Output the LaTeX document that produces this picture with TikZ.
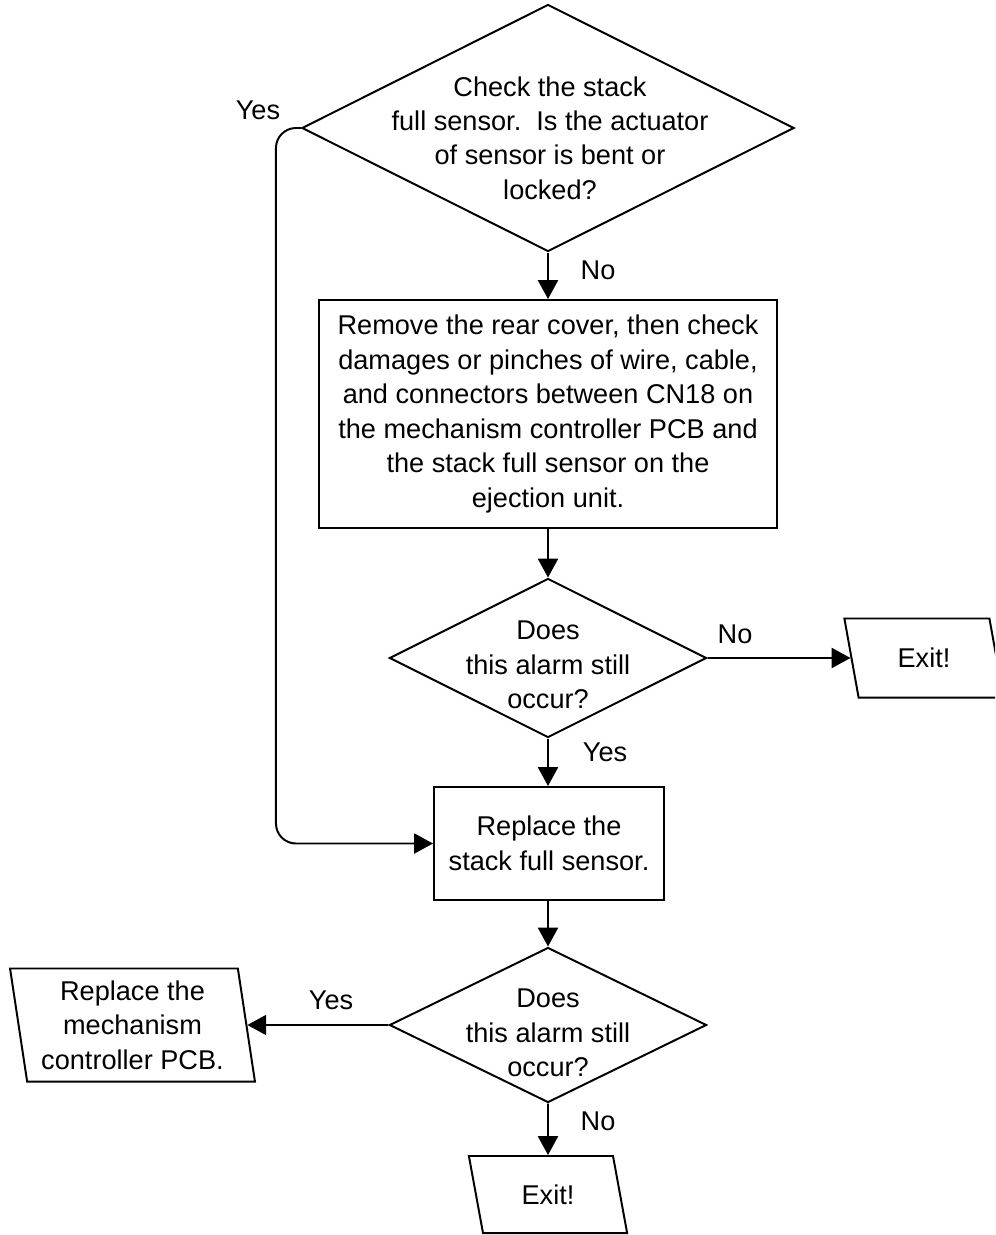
\documentclass[tikz,border=0pt]{standalone}
\usepackage{fontspec}
\setmainfont{Liberation Sans}
\usetikzlibrary{shapes.geometric,arrows.meta,positioning,calc}

\tikzset{
  txt/.style={font=\fontsize{19.3pt}{24.5pt}\selectfont, align=center},
  decision/.style={draw, diamond, line width=1.4pt, inner sep=0pt},
  stepbox/.style={draw, rectangle, line width=1.4pt, txt},
  io/.style={draw, trapezium, trapezium left angle=103, trapezium right angle=77,
    trapezium stretches=true, line width=1.4pt, txt},
  arr/.style={-{Triangle[length=0.47cm,width=0.5cm]}, line width=1.4pt},
  lbl/.style={txt}
}

\begin{document}
\begin{tikzpicture}[x=0.025cm,y=-0.025cm]
      \useasboundingbox (0,0) rectangle (995,1235);
      \clip (0,0) rectangle (995,1235);
      % first question
      \node[decision, minimum width=12.3cm, minimum height=6.175cm] (chk) at (548,128) {};
      \node[txt] (chktxt) at (550,138) {Check the stack\\full sensor.\ \ Is the actuator\\of sensor is bent or\\locked?};
      % rear cover check
      \node[stepbox, minimum width=11.425cm, minimum height=5.7cm] (cover) at (548,414)
        {Remove the rear cover, then check\\damages or pinches of wire, cable,\\and connectors between CN18 on\\the mechanism controller PCB and\\the stack full sensor on the\\ejection unit.};
      % still occurs (1)
      \node[decision, minimum width=7.925cm, minimum height=3.975cm] (occA) at (548,658) {};
      \node[txt] (occAtxt) at (548,665) {Does\\this alarm still\\occur?};
      \node[io, minimum width=4cm, minimum height=1.975cm] (exitA) at (924,658) {Exit!};
      % replace sensor
      \node[stepbox, minimum width=5.75cm, minimum height=2.825cm] (sensor) at (549,843.5)
        {Replace the\\stack full sensor.};
      % still occurs (2)
      \node[decision, minimum width=7.925cm, minimum height=3.875cm] (occB) at (548,1025) {};
      \node[txt] (occBtxt) at (548,1033) {Does\\this alarm still\\occur?};
      \node[io, trapezium left angle=99, trapezium right angle=81,
        minimum width=6.125cm, minimum height=2.825cm] (pcb) at (132.5,1025)
        {Replace the\\mechanism\\controller PCB.};
      \node[io, minimum width=3.975cm, minimum height=1.925cm] (exitB) at (548,1194.5) {Exit!};

      % connectors
      \draw[arr] (chk.south) -- (cover.north);
      \draw[arr] (cover.south) -- (occA.north);
      \draw[arr] (occA.east) -- (exitA);
      \draw[arr] (occA.south) -- (occA.south |- sensor.north);
      \draw[arr, rounded corners=0.5cm] (chk.west) -- ++(-25,0) |- (sensor.west);
      \draw[arr] (occA.south |- sensor.south) -- (occB.north);
      \draw[arr] (occB.west) -- (pcb);
      \draw[arr] (occB.south) -- (exitB.north);

      % answers
      \node[lbl] (yesA) at (258,110) {Yes};
      \node[lbl] (noA) at (598,270) {No};
      \node[lbl] (noB) at (735,634) {No};
      \node[lbl] (yesB) at (605,752) {Yes};
      \node[lbl] (yesC) at (331,1000) {Yes};
      \node[lbl] (noC) at (598,1121) {No};
    \end{tikzpicture}
\end{document}
